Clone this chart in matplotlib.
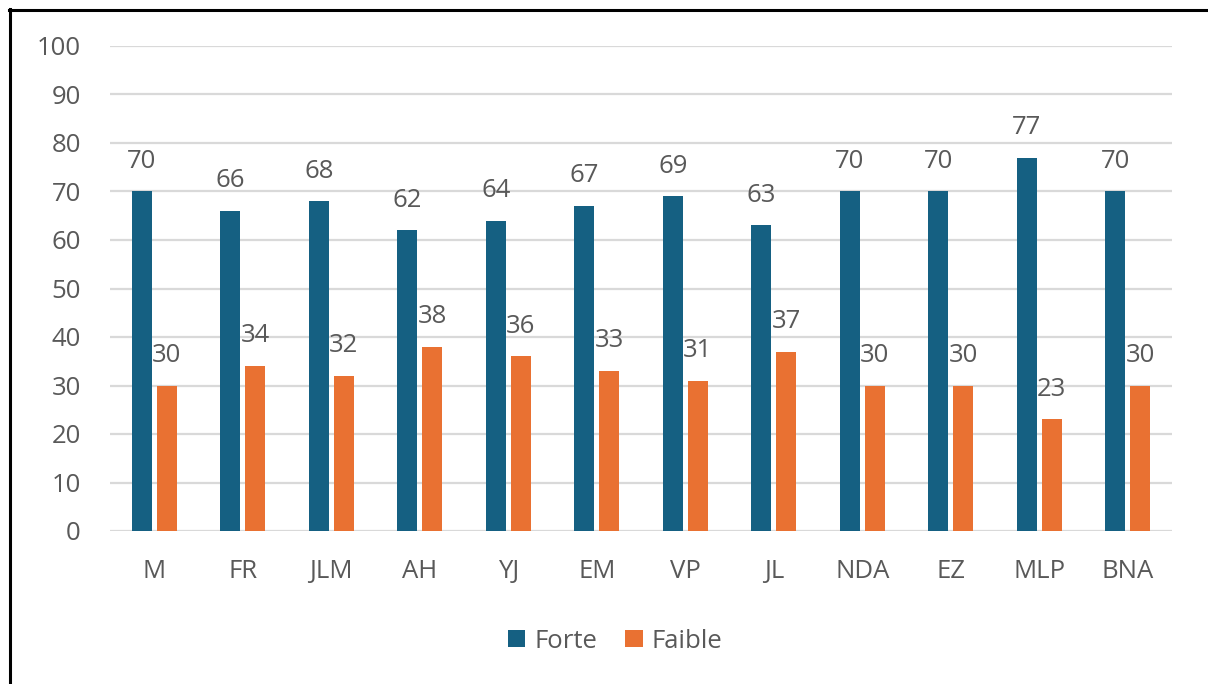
import matplotlib
matplotlib.use("Agg")
import matplotlib.pyplot as plt
from matplotlib.lines import Line2D
import numpy as np

categories = ["M", "FR", "JLM", "AH", "YJ", "EM", "VP", "JL", "NDA", "EZ", "MLP", "BNA"]
forte = [70, 66, 68, 62, 64, 67, 69, 63, 70, 70, 77, 70]
faible = [30, 34, 32, 38, 36, 33, 31, 37, 30, 30, 23, 30]
yticks = [0, 10, 20, 30, 40, 50, 60, 70, 80, 90, 100]

plt.rcParams['font.family'] = ['Open Sans', 'DejaVu Sans']
W, H = 1208, 684
fig = plt.figure(figsize=(W / 100, H / 100), dpi=100)
ax = fig.add_axes([110 / W, 1 - 531 / H, (1172 - 110) / W, (531 - 46) / H])

c_forte = "#156082"
c_faible = "#E97132"
txt = "#595959"
fs = 18.5

x = np.arange(len(categories))
bw = 0.226
off = 0.141
ax.bar(x - off, forte, bw, color=c_forte, label="Forte", zorder=3)
ax.bar(x + off, faible, bw, color=c_faible, label="Faible", zorder=3)

for xi, v in zip(x, forte):
    ax.annotate(str(v), (xi - off, v), xytext=(0, 17), textcoords="offset points",
                ha="center", va="baseline", fontsize=fs, color=txt)
for xi, v in zip(x, faible):
    ax.annotate(str(v), (xi + off, v), xytext=(0, 17), textcoords="offset points",
                ha="center", va="baseline", fontsize=fs, color=txt)

ax.set_xlim(-0.5, len(categories) - 0.5)
ax.set_ylim(0, 100)
ax.set_yticks(yticks)
ax.set_yticklabels([str(t) for t in yticks], fontsize=fs, color=txt)
ax.set_xticks(x)
ax.set_xticklabels(categories, fontsize=fs, color=txt)
ax.tick_params(axis="both", length=0)
ax.tick_params(axis="y", pad=21)
ax.tick_params(axis="x", pad=20)
ax.yaxis.grid(True, color="#D9D9D9", linewidth=1.6, zorder=0)
ax.set_axisbelow(True)
for s in ax.spines.values():
    s.set_visible(False)

leg = fig.legend(loc="center", bbox_to_anchor=(615 / W, 1 - 641 / H), ncol=2,
                 frameon=False, fontsize=fs, handlelength=0.68, handleheight=0.68,
                 handletextpad=0.35, columnspacing=1.1)
for t in leg.get_texts():
    t.set_color(txt)

# screenshot border (left and top)
fig.add_artist(Line2D([9.5 / W, 9.5 / W], [0, 1 - 9 / H], color="black", linewidth=2.2,
                      transform=fig.transFigure))
fig.add_artist(Line2D([8.5 / W, 1], [1 - 9.5 / H, 1 - 9.5 / H], color="black", linewidth=2.2,
                      transform=fig.transFigure))

fig.savefig("out.png", dpi=100)
